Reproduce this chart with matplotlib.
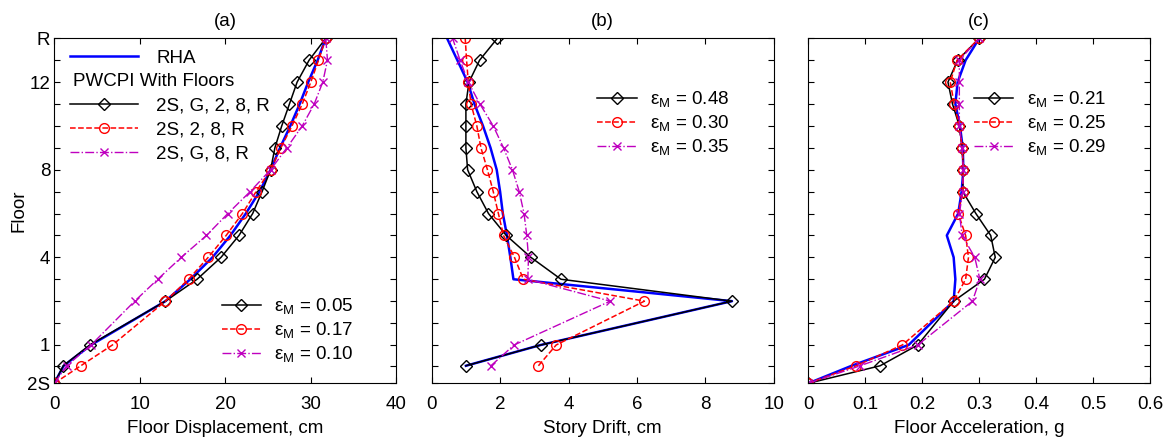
import matplotlib
matplotlib.use("Agg")
import matplotlib.pyplot as plt
from matplotlib.lines import Line2D

plt.rcParams['font.family'] = ['Liberation Sans', 'DejaVu Sans']
plt.rcParams['font.size'] = 13.5
plt.rcParams['mathtext.fontset'] = 'custom'
plt.rcParams['mathtext.rm'] = 'Liberation Sans'

FS = 13.5

# Floor levels (elevation in story units, 2S at 0); a mezzanine level at 2.75 carries no data
floors = ['2S', 'G', '1', '2', '3', '4', '5', '6', '7', '8', '9', '10', '11', '12', '13', 'R']
elev = [0, 0.8, 1.75, 3.75, 4.75, 5.75, 6.75, 7.75, 8.75, 9.75, 10.75, 11.75, 12.75, 13.75, 14.75, 15.75]
tick_elev = [0, 0.8, 1.75, 2.75, 3.75, 4.75, 5.75, 6.75, 7.75, 8.75, 9.75, 10.75, 11.75, 12.75, 13.75, 14.75, 15.75]
tick_names = ['2S', '', '1', '', '', '', '4', '', '', '', '8', '', '', '', '12', '', 'R']

# (a) Floor displacement, cm (2S .. R)
disp_rha = [0, 1.1, 4.3, 13.0, 15.9, 18.5, 20.6, 22.4, 24.0, 25.3, 26.4, 27.6, 28.7, 29.7, 30.8, 31.75]
disp_blk = [0, 1.05, 4.15, 13.0, 16.7, 19.5, 21.6, 23.2, 24.3, 25.3, 25.8, 26.6, 27.5, 28.4, 29.8, 31.75]
disp_red = [0, 3.1, 6.8, 13.0, 15.7, 18.0, 20.1, 22.0, 23.6, 25.3, 26.5, 27.8, 29.0, 30.0, 30.9, 31.75]
disp_mag = [0, 1.45, 4.3, 9.4, 12.1, 14.85, 17.8, 20.3, 22.9, 25.3, 27.2, 29.0, 30.4, 31.4, 31.95, 31.75]

# (b) Story drift, cm (G .. R)
drift_rha = [1.0, 3.19, 8.78, 2.39, 2.3, 2.2, 2.08, 2.0, 1.9, 1.72, 1.5, 1.25, 1.05, 0.75, 0.45]
drift_blk = [1.0, 3.19, 8.78, 3.78, 2.9, 2.18, 1.66, 1.32, 1.05, 1.0, 1.0, 1.0, 1.09, 1.4, 1.92]
drift_red = [3.12, 3.64, 6.22, 2.68, 2.42, 2.1, 1.95, 1.8, 1.63, 1.44, 1.32, 1.15, 1.07, 1.02, 0.98]
drift_mag = [1.73, 2.41, 5.22, 2.81, 2.83, 2.78, 2.7, 2.56, 2.36, 2.1, 1.8, 1.41, 1.07, 0.83, 0.61]

# (c) Floor acceleration, g (2S .. R)
acc_rha = [0, 0.076, 0.176, 0.255, 0.258, 0.255, 0.243, 0.263, 0.269, 0.272, 0.271, 0.266, 0.258, 0.262, 0.276, 0.300]
acc_blk = [0, 0.126, 0.192, 0.255, 0.309, 0.328, 0.320, 0.294, 0.271, 0.272, 0.270, 0.265, 0.253, 0.245, 0.262, 0.300]
acc_red = [0, 0.084, 0.165, 0.255, 0.276, 0.281, 0.276, 0.263, 0.271, 0.272, 0.270, 0.265, 0.256, 0.249, 0.261, 0.300]
acc_mag = [0, 0.091, 0.192, 0.288, 0.301, 0.292, 0.270, 0.265, 0.271, 0.272, 0.270, 0.265, 0.265, 0.265, 0.265, 0.300]

eps_a = ['0.05', '0.17', '0.10']
eps_b = ['0.48', '0.30', '0.35']
eps_c = ['0.21', '0.25', '0.29']
case_labels = ['2S, G, 2, 8, R', '2S, 2, 8, R', '2S, G, 8, R']

titles = ['(a)', '(b)', '(c)']
xlabels = ['Floor Displacement, cm', 'Story Drift, cm', 'Floor Acceleration, g']
xlims = [(0, 40), (0, 10), (0, 0.6)]
xticks = [[0, 10, 20, 30, 40], [0, 2, 4, 6, 8, 10], [0, 0.1, 0.2, 0.3, 0.4, 0.5, 0.6]]
xticklabels = [['0', '10', '20', '30', '40'], ['0', '2', '4', '6', '8', '10'],
               ['0', '0.1', '0.2', '0.3', '0.4', '0.5', '0.6']]

styles = [dict(color='k', ls='-', marker='D', ms=6, mfc='none', mew=1.0, lw=1.1),
          dict(color='r', ls='--', marker='o', ms=7, mfc='none', mew=1.0, lw=1.1),
          dict(color='m', ls='-.', marker='x', ms=5.5, mew=1.0, lw=1.0)]
rha_style = dict(color='#0000ff', ls='-', lw=1.8)

fig = plt.figure(figsize=(11.74, 4.41), dpi=100)
lefts = [54.3, 431.7, 808.3]
W, H = 1174.0, 441.0
axes = []
for i in range(3):
    ax = fig.add_axes([lefts[i] / W, 1 - 383.3 / H, 342.0 / W, 345.0 / H])
    axes.append(ax)

panels = [
    (elev, disp_rha, disp_blk, disp_red, disp_mag),
    (elev[1:], drift_rha, drift_blk, drift_red, drift_mag),
    (elev, acc_rha, acc_blk, acc_red, acc_mag),
]
eps_all = [eps_a, eps_b, eps_c]

for i, ax in enumerate(axes):
    y, rha, blk, red, mag = panels[i]
    h_rha, = ax.plot(rha, y, **rha_style)
    hs = []
    for vals, st in zip([blk, red, mag], styles):
        h, = ax.plot(vals, y, **st)
        hs.append(h)
    ax.set_xlim(*xlims[i])
    ax.set_ylim(0, 15.75)
    ax.set_xticks(xticks[i])
    ax.set_xticklabels(xticklabels[i])
    ax.set_yticks(tick_elev)
    if i == 0:
        ax.set_yticklabels(tick_names)
        ax.set_ylabel('Floor', labelpad=0)
    else:
        ax.set_yticklabels([])
    ax.tick_params(axis='y', direction='in', length=4, width=0.8, right=True, labelsize=FS, pad=3)
    ax.tick_params(axis='x', direction='in', length=4, width=0.8, top=True, labelsize=FS, pad=9)
    for s in ax.spines.values():
        s.set_linewidth(0.8)
    ax.set_xlabel(xlabels[i], fontsize=FS, labelpad=5)
    ax.set_title(titles[i], fontsize=FS, pad=9)

    eps_labels = ['ε$_\\mathregular{M}$ = ' + e for e in eps_all[i]]
    if i == 0:
        blank = Line2D([], [], color='none')
        leg1 = ax.legend([h_rha, blank] + hs, ['RHA', ' '] + case_labels,
                         loc='upper left', bbox_to_anchor=(0.046, 0.967), frameon=False,
                         borderpad=0, borderaxespad=0, handlelength=3.6, handletextpad=1.0,
                         labelspacing=0.36, fontsize=FS)
        ax.text(0.054, 0.874, 'PWCPI With Floors', transform=ax.transAxes,
                ha='left', va='center', fontsize=FS)
        ax.add_artist(leg1)
        ax.legend(hs, eps_labels, loc='upper left', bbox_to_anchor=(0.489, 0.25),
                  frameon=False, borderpad=0, borderaxespad=0, handlelength=2.1,
                  handletextpad=0.72, labelspacing=0.18, fontsize=FS)
    else:
        ax.legend(hs, eps_labels, loc='upper left', bbox_to_anchor=(0.484, 0.85),
                  frameon=False, borderpad=0, borderaxespad=0, handlelength=2.1,
                  handletextpad=0.72, labelspacing=0.18, fontsize=FS)

fig.savefig('out.png', dpi=100)
